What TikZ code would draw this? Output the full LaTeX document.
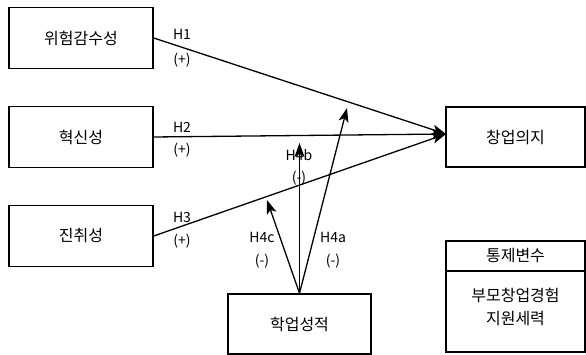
\documentclass[tikz,border=0pt]{standalone}
\usepackage{fontspec}
\setmainfont{Noto Sans CJK KR}
\usetikzlibrary{arrows.meta}
\begin{document}
\begin{tikzpicture}[x=1pt,y=-1pt,
  box/.style={draw,line width=1.4pt,minimum width=144pt,minimum height=61pt,inner sep=0pt,font=\fontsize{16}{18}\selectfont},
  lbl/.style={font=\fontsize{14}{16}\selectfont,inner sep=0pt},
  arr/.style={line width=1.3pt,-{Stealth[length=14pt,width=10pt,inset=3.5pt]}}]
\useasboundingbox (0,0) rectangle (586,355);
\node[box] (r1) at (81,38) {위험감수성};
\node[box] (r2) at (81,137) {혁신성};
\node[box] (r3) at (81,236) {진취성};
\node[box,minimum width=139pt,minimum height=60pt] (y) at (515.5,137) {창업의지};
\node[box,minimum width=143pt,minimum height=60pt] (g) at (299.5,324) {학업성적};
\node[draw,line width=1.4pt,minimum width=139pt,minimum height=111pt,inner sep=0pt] (c) at (515.5,296.5) {};
\coordinate (cl) at (446,271);
\coordinate (cr) at (585,271);
\draw[line width=1.4pt] (cl) -- (cr);
\node[lbl,font=\fontsize{16}{18}\selectfont] (ct) at (515.5,256) {통제변수};
\node[lbl,font=\fontsize{16}{18}\selectfont,align=center] (cv) at (515.5,307) {부모창업경험\\[5pt]지원세력};
\coordinate (tgt) at (446,134);
\coordinate (ta) at (347,108);
\coordinate (tb) at (299.5,143);
\coordinate (tc) at (267,200);
\draw[arr] (r1.east) -- (tgt);
\draw[arr] (r2.east) -- (tgt);
\draw[arr] (r3.east) -- (tgt);
\draw[arr] (g.north) -- (ta);
\draw[arr] (g.north) -- (tb);
\draw[arr] (g.north) -- (tc);
\node[lbl] (h1) at (182,34) {H1};
\node[lbl] (p1) at (182,60) {(+)};
\node[lbl] (h2) at (182,127) {H2};
\node[lbl] (p2) at (182,150) {(+)};
\node[lbl] (h3) at (182,217) {H3};
\node[lbl] (p3) at (182,241) {(+)};
\node[lbl] (h4b) at (299,155) {H4b};
\node[lbl] (p4b) at (299,178) {(-)};
\node[lbl] (h4c) at (262,237) {H4c};
\node[lbl] (p4c) at (262,261) {(-)};
\node[lbl] (h4a) at (333,237) {H4a};
\node[lbl] (p4a) at (333,261) {(-)};
\end{tikzpicture}
\end{document}
